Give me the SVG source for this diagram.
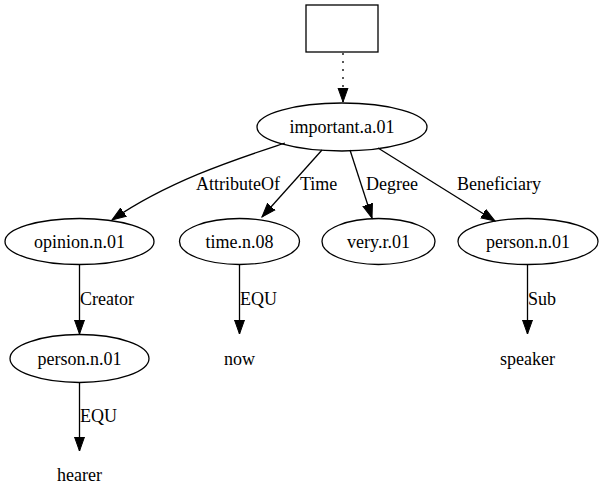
<svg xmlns="http://www.w3.org/2000/svg" width="603" height="504" viewBox="0 0 603 504">
<style>
text{font-family:"Liberation Serif","Times New Roman",serif;font-size:18px;fill:#000}
.n{text-anchor:middle}
.shape{fill:none;stroke:#000;stroke-width:1.3}
.e{fill:none;stroke:#000;stroke-width:1.3}
</style>
<defs>
<marker id="ah" markerUnits="userSpaceOnUse" markerWidth="16" markerHeight="12" refX="14" refY="5.5" orient="auto" viewBox="0 0 16 11">
<path d="M0,0.5 L14,5.5 L0,10.5 z" fill="#000" stroke="#000" stroke-width="1"/>
</marker>
</defs>
<rect width="603" height="504" fill="#fff"/>
<g id="connectors">
<path class="e" d="M343,53 L343,102" stroke-dasharray="2,6" marker-end="url(#ah)"/>
<path class="e" d="M285,143 C240,158 170,180 112,220" marker-end="url(#ah)"/>
<text x="196" y="190">AttributeOf</text>
<path class="e" d="M322,150 L262,217" marker-end="url(#ah)"/>
<text x="300" y="190">Time</text>
<path class="e" d="M350,150 L372,218" marker-end="url(#ah)"/>
<text x="366" y="190">Degree</text>
<path class="e" d="M378,148 L495,221" marker-end="url(#ah)"/>
<text x="457" y="190">Beneficiary</text>
<path class="e" d="M79.5,265 L79.5,334" marker-end="url(#ah)"/>
<text x="80" y="305">Creator</text>
<path class="e" d="M239.5,265 L239.5,334" marker-end="url(#ah)"/>
<text x="240" y="305">EQU</text>
<path class="e" d="M527.5,265 L527.5,334" marker-end="url(#ah)"/>
<text x="528" y="305">Sub</text>
<path class="e" d="M79.5,383 L79.5,451" marker-end="url(#ah)"/>
<text x="80" y="422">EQU</text>
</g>
<g id="root"><rect class="shape" x="306" y="5" width="72" height="47"/></g>
<g id="important"><ellipse class="shape" cx="342" cy="127" rx="85" ry="24"/><text class="n" x="342" y="133">important.a.01</text></g>
<g id="opinion"><ellipse class="shape" cx="79.5" cy="241.5" rx="74.5" ry="23"/><text class="n" x="79.5" y="247.5">opinion.n.01</text></g>
<g id="time"><ellipse class="shape" cx="239.5" cy="241.5" rx="60" ry="23"/><text class="n" x="239.5" y="247.5">time.n.08</text></g>
<g id="very"><ellipse class="shape" cx="378.5" cy="241.5" rx="56.5" ry="23"/><text class="n" x="378.5" y="247.5">very.r.01</text></g>
<g id="person2"><ellipse class="shape" cx="528" cy="241.5" rx="70" ry="23"/><text class="n" x="528" y="247.5">person.n.01</text></g>
<g id="person1"><ellipse class="shape" cx="79.5" cy="358.5" rx="69.5" ry="24"/><text class="n" x="79.5" y="364.5">person.n.01</text></g>
<g id="now"><text class="n" x="239.5" y="364.5">now</text></g>
<g id="speaker"><text class="n" x="527.5" y="364.5">speaker</text></g>
<g id="hearer"><text class="n" x="79.5" y="481">hearer</text></g>
</svg>
